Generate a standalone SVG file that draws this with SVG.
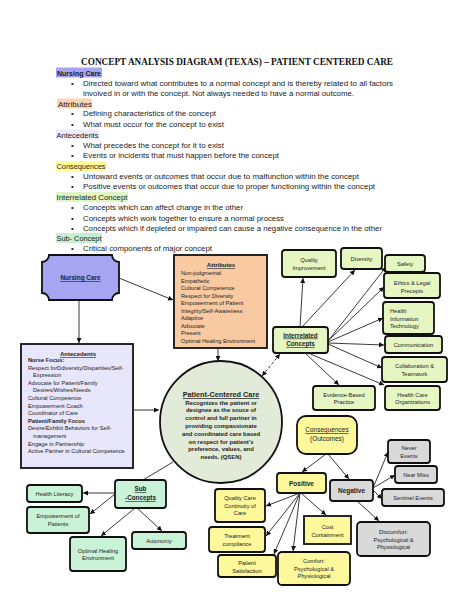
<svg xmlns="http://www.w3.org/2000/svg" width="474" height="613" viewBox="0 0 474 613">
<defs>
<marker id="ah" viewBox="0 0 10 10" refX="10" refY="5" markerWidth="5" markerHeight="5" orient="auto-start-reverse" markerUnits="userSpaceOnUse"><path d="M0,0 L10,5 L0,10 z" fill="#111"/></marker>
</defs>
<style>
.tt{font-family:"Liberation Serif","Times New Roman",serif;font-weight:bold;font-size:10px;fill:#111}
.s{font-family:"Liberation Sans",Arial,sans-serif;fill:#222}
.top{font-size:8px}
.hd{font-size:8px}
.n{font-size:5.7px;text-anchor:middle}
.l{font-size:5.7px}
.b{font-weight:bold}
.u{text-decoration:underline}
.c{text-anchor:middle}
.bx{stroke:#111;stroke-width:1.8}
.gr{fill:#e6f6c2}
.ye{fill:#fcf89b}
.gy{fill:#d9d9d9}
.mt{fill:#c9f2d7}
.cn line,.cn path{stroke:#222;stroke-width:0.9;fill:none}
.ar{marker-end:url(#ah)}
</style>
<rect width="474" height="613" fill="#fff"/>

<g id="legend">
<text class="tt" x="81" y="65" textLength="312" lengthAdjust="spacingAndGlyphs">CONCEPT ANALYSIS DIAGRAM (TEXAS) – PATIENT CENTERED CARE</text>
<rect x="56" y="67.5" width="46" height="10" fill="#a5a5f2"/>
<text class="s hd b" x="57" y="75.5" textLength="44" lengthAdjust="spacingAndGlyphs">Nursing Care</text>
<text class="s top" x="71" y="86">•</text>
<text class="s top" x="83" y="86" textLength="310" lengthAdjust="spacingAndGlyphs">Directed toward what contributes to a normal concept and is thereby related to all factors</text>
<text class="s top" x="83" y="96" textLength="271" lengthAdjust="spacingAndGlyphs">involved in or with the concept. Not always needed to have a normal outcome.</text>
<rect x="57" y="98.5" width="35" height="10" fill="#fbd5b5"/>
<text class="s hd" x="58" y="106.5" textLength="34" lengthAdjust="spacingAndGlyphs">Attributes</text>
<text class="s top" x="71" y="116">•</text>
<text class="s top" x="83" y="116" textLength="133" lengthAdjust="spacingAndGlyphs">Defining characteristics of the concept</text>
<text class="s top" x="71" y="127">•</text>
<text class="s top" x="83" y="127" textLength="141" lengthAdjust="spacingAndGlyphs">What must occur for the concept to exist</text>
<rect x="56" y="129.5" width="43" height="10" fill="#ecebfb"/>
<text class="s hd" x="56.5" y="137.5" textLength="42" lengthAdjust="spacingAndGlyphs">Antecedents</text>
<text class="s top" x="71" y="148">•</text>
<text class="s top" x="83" y="148" textLength="141" lengthAdjust="spacingAndGlyphs">What precedes the concept for it to exist</text>
<text class="s top" x="71" y="158">•</text>
<text class="s top" x="83" y="158" textLength="196" lengthAdjust="spacingAndGlyphs">Events or incidents that must happen before the concept</text>
<rect x="56" y="161" width="50" height="10" fill="#ffff99"/>
<text class="s hd" x="56.5" y="169" textLength="49" lengthAdjust="spacingAndGlyphs">Consequences</text>
<text class="s top" x="71" y="179">•</text>
<text class="s top" x="83" y="179" textLength="276" lengthAdjust="spacingAndGlyphs">Untoward events or outcomes that occur due to malfunction within the concept</text>
<text class="s top" x="71" y="189">•</text>
<text class="s top" x="83" y="189" textLength="292" lengthAdjust="spacingAndGlyphs">Positive events or outcomes that occur due to proper functioning within the concept</text>
<rect x="56" y="192" width="72" height="10" fill="#e2f5c5"/>
<text class="s hd" x="56.5" y="200" textLength="71" lengthAdjust="spacingAndGlyphs">Interrelated Concept</text>
<text class="s top" x="71" y="210">•</text>
<text class="s top" x="83" y="210" textLength="160" lengthAdjust="spacingAndGlyphs">Concepts which can affect change in the other</text>
<text class="s top" x="71" y="221">•</text>
<text class="s top" x="83" y="221" textLength="201" lengthAdjust="spacingAndGlyphs">Concepts which work together to ensure a normal process</text>
<text class="s top" x="71" y="231">•</text>
<text class="s top" x="83" y="231" textLength="299" lengthAdjust="spacingAndGlyphs">Concepts which if depleted or impaired can cause a negative consequence in the other</text>
<rect x="56" y="233" width="46" height="10" fill="#c6efce"/>
<text class="s hd" x="56.5" y="241" textLength="45" lengthAdjust="spacingAndGlyphs">Sub- Concept</text>
<text class="s top" x="71" y="251">•</text>
<text class="s top" x="83" y="251" textLength="129" lengthAdjust="spacingAndGlyphs">Critical components of major concept</text>
</g>

<g id="connectors" class="cn">
<line class="ar" x1="119" y1="278" x2="173" y2="300"/>
<line class="ar" x1="79" y1="301" x2="79" y2="343"/>
<line class="ar" x1="218" y1="349" x2="218" y2="361"/>
<line class="ar" x1="134" y1="410" x2="159" y2="410"/>
<line x1="173" y1="462" x2="143" y2="480"/>
<path d="M262,376 L280,354" stroke-dasharray="3,2" marker-start="url(#ah)" marker-end="url(#ah)"/>
<line class="ar" x1="300" y1="327" x2="303" y2="278"/>
<line class="ar" x1="302" y1="327" x2="355" y2="270"/>
<line class="ar" x1="328" y1="341" x2="386" y2="267"/>
<line class="ar" x1="328" y1="341" x2="384" y2="287"/>
<line class="ar" x1="328" y1="342" x2="383" y2="318"/>
<line class="ar" x1="328" y1="343" x2="384" y2="345"/>
<line class="ar" x1="328" y1="344" x2="382" y2="368"/>
<line class="ar" x1="305" y1="353" x2="339" y2="385"/>
<line class="ar" x1="308" y1="353" x2="384" y2="385"/>
<line class="ar" x1="326" y1="454" x2="302" y2="472"/>
<line class="ar" x1="328" y1="454" x2="349" y2="479"/>
<line class="ar" x1="300" y1="493" x2="266" y2="506"/>
<line class="ar" x1="300" y1="493" x2="266" y2="536"/>
<line class="ar" x1="300" y1="493" x2="274" y2="554"/>
<line class="ar" x1="300" y1="493" x2="293" y2="551"/>
<line class="ar" x1="301" y1="493" x2="326" y2="515"/>
<line class="ar" x1="373" y1="488" x2="388" y2="452"/>
<line class="ar" x1="373" y1="488" x2="395" y2="475"/>
<line class="ar" x1="373" y1="490" x2="382" y2="499"/>
<line class="ar" x1="357" y1="501" x2="379" y2="521"/>
<line class="ar" x1="115" y1="493" x2="83" y2="493"/>
<line class="ar" x1="115" y1="494" x2="90" y2="514"/>
<line class="ar" x1="135" y1="508" x2="101" y2="536"/>
<line class="ar" x1="137" y1="508" x2="162" y2="531"/>
</g>

<g id="nursing-care">
<path class="bx" fill="#a5a5f2" d="M49,255 H112 A7,7 0 0 0 119,262 V293 A7,7 0 0 0 112,300 H49 A7,7 0 0 0 42,293 V262 A7,7 0 0 0 49,255 Z"/>
<text class="s b u c" x="80.5" y="280" font-size="6.4">Nursing Care</text>
</g>

<g id="attributes">
<rect class="bx" x="174" y="255" width="93" height="93" fill="#f9c9a1"/>
<text class="s b u c" x="221" y="267" font-size="6">Attributes</text>
<text class="s l" x="181" y="275">Non-judgmental</text>
<text class="s l" x="181" y="282.5">Empathetic</text>
<text class="s l" x="181" y="290">Cultural Competence</text>
<text class="s l" x="181" y="297.5">Respect for Diversity</text>
<text class="s l" x="181" y="305">Empowerment of Patient</text>
<text class="s l" x="181" y="312.5">Integrity/Self-Awareness</text>
<text class="s l" x="181" y="320">Adaptive</text>
<text class="s l" x="181" y="327.5">Advocate</text>
<text class="s l" x="181" y="335">Present</text>
<text class="s l" x="181" y="342.5">Optimal Healing Environment</text>
</g>

<g id="antecedents">
<rect class="bx" x="21" y="344" width="112" height="124" fill="#e8e6fb"/>
<text class="s b u c" x="78" y="356" font-size="6">Antecedents</text>
<text class="s l b" x="28" y="362">Nurse Focus:</text>
<text class="s l" x="28" y="369.6">Respect forDdiversity/Disparities/Self-</text>
<text class="s l" x="33" y="377.2">Expression</text>
<text class="s l" x="28" y="384.8">Advocate for Patient/Family</text>
<text class="s l" x="33" y="392.4">Desires/Wishes/Needs</text>
<text class="s l" x="28" y="400">Cultural Competence</text>
<text class="s l" x="28" y="407.6">Empowerment Coach</text>
<text class="s l" x="28" y="415.2">Coordinator of Care</text>
<text class="s l b" x="28" y="422.8">Patient/Family Focus</text>
<text class="s l" x="28" y="430.4">Desire/Exhibit Behaviors for Self-</text>
<text class="s l" x="33" y="438">management</text>
<text class="s l" x="28" y="445.6">Engage in Partnership</text>
<text class="s l" x="28" y="453.2">Active Partner in Cultural Competence</text>
</g>

<g id="patient-centered-care">
<circle class="bx" cx="221" cy="422" r="61" fill="#e2ead8"/>
<text class="s b u c" x="221" y="397" font-size="7.3">Patient-Centered Care</text>
<g class="s b c" font-size="5.9">
<text x="221" y="404.5">Recognizes the patient or</text>
<text x="221" y="412.3">designee as the souce of</text>
<text x="221" y="420.1">control and full partner in</text>
<text x="221" y="427.9">providing compassionate</text>
<text x="221" y="435.7">and coordinated care based</text>
<text x="221" y="443.5">on respect for patient’s</text>
<text x="221" y="451.3">preference, values, and</text>
<text x="221" y="459.1">needs. (QSEN)</text>
</g>
</g>

<g id="interrelated-concepts">
<rect class="bx gr" x="273" y="327" width="55" height="26" rx="3"/>
<text class="s b u c" x="300.5" y="337.5" font-size="6.3">Interrelated</text>
<text class="s b u c" x="300.5" y="346" font-size="6.3">Concepts</text>
</g>
<g id="quality-improvement">
<rect class="bx gr" x="282" y="250" width="54" height="27" rx="3"/>
<text class="s n" x="309" y="262">Quality</text>
<text class="s n" x="309" y="270">Improvement</text>
</g>
<g id="diversity">
<rect class="bx gr" x="341" y="248" width="41" height="21" rx="3"/>
<text class="s n" x="361.5" y="261">Diversity</text>
</g>
<g id="safety">
<rect class="bx gr" x="385" y="255" width="40" height="17" rx="3"/>
<text class="s n" x="405" y="266">Safety</text>
</g>
<g id="ethics">
<rect class="bx gr" x="384" y="273" width="56" height="25" rx="3"/>
<text class="s n" x="412" y="285">Ethics &amp; Legal</text>
<text class="s n" x="412" y="292.5">Precepts</text>
</g>
<g id="health-information-technology">
<rect class="bx gr" x="383" y="302" width="51" height="32" rx="3"/>
<text class="s l" x="390" y="313">Health</text>
<text class="s l" x="390" y="320.5">Information</text>
<text class="s l" x="390" y="328">Technology</text>
</g>
<g id="communication">
<rect class="bx gr" x="385" y="336" width="57" height="17" rx="3"/>
<text class="s n" x="413.5" y="346.5">Communication</text>
</g>
<g id="collaboration">
<rect class="bx gr" x="382" y="357" width="65" height="25" rx="3"/>
<text class="s n" x="414.5" y="368">Collaboration &amp;</text>
<text class="s n" x="414.5" y="375.5">Teamwork</text>
</g>
<g id="health-care-organizations">
<rect class="bx gr" x="385" y="386" width="55" height="24" rx="3"/>
<text class="s n" x="412.5" y="396.5">Health Care</text>
<text class="s n" x="412.5" y="404">Organizations</text>
</g>
<g id="evidence-based-practice">
<rect class="bx gr" x="313" y="386" width="62" height="24" rx="3"/>
<text class="s n" x="344" y="396.5">Evidence-Based</text>
<text class="s n" x="344" y="404">Practice</text>
</g>

<g id="consequences">
<rect class="bx ye" x="297" y="416" width="60" height="38" rx="9"/>
<text class="s u c" x="327" y="432" font-size="6.5">Consequences</text>
<text class="s c" x="327" y="441" font-size="6.5">(Outcomes)</text>
</g>
<g id="positive">
<rect class="bx ye" x="277" y="473" width="49" height="20" rx="3"/>
<text class="s b c" x="301.5" y="485.5" font-size="6.5">Positive</text>
</g>
<g id="negative">
<rect class="bx gy" x="330" y="480" width="43" height="21" rx="3"/>
<text class="s b c" x="351.5" y="493" font-size="6.5">Negative</text>
</g>
<g id="never-events">
<rect class="bx gy" x="388" y="440" width="42" height="23" rx="3"/>
<text class="s n" x="409" y="450">Never</text>
<text class="s n" x="409" y="458">Events</text>
</g>
<g id="near-miss">
<rect class="bx gy" x="395" y="466" width="42" height="17" rx="3"/>
<text class="s n" x="416" y="477">Near Miss</text>
</g>
<g id="sentinel-events">
<rect class="bx gy" x="382" y="489" width="62" height="17" rx="3"/>
<text class="s n" x="413" y="500">Sentinel Events</text>
</g>
<g id="discomfort">
<rect class="bx gy" x="357" y="522" width="73" height="34" rx="4"/>
<text class="s n" x="393.5" y="534">Discomfort:</text>
<text class="s n" x="393.5" y="541.5">Psychological &amp;</text>
<text class="s n" x="393.5" y="549">Physiological</text>
</g>
<g id="quality-care">
<rect class="bx ye" x="215" y="489" width="50" height="33" rx="3"/>
<text class="s n" x="240" y="500">Quality Care</text>
<text class="s n" x="240" y="507.5">Continuity of</text>
<text class="s n" x="240" y="515">Care</text>
</g>
<g id="treatment-compliance">
<rect class="bx ye" x="209" y="527" width="56" height="25" rx="3"/>
<text class="s n" x="237" y="538">Treatment</text>
<text class="s n" x="237" y="545.5">compliance</text>
</g>
<g id="patient-satisfaction">
<rect class="bx ye" x="218" y="555" width="58" height="22" rx="3"/>
<text class="s n" x="247" y="565">Patient</text>
<text class="s n" x="247" y="572.5">Satisfaction</text>
</g>
<g id="comfort">
<rect class="bx ye" x="278" y="552" width="72" height="33" rx="4"/>
<text class="s n" x="314" y="563">Comfort:</text>
<text class="s n" x="314" y="570.5">Psychological &amp;</text>
<text class="s n" x="314" y="578">Physiological</text>
</g>
<g id="cost-containment">
<rect class="bx ye" x="304" y="516" width="47" height="28"/>
<text class="s n" x="327.5" y="529">Cost</text>
<text class="s n" x="327.5" y="536.5">Containment</text>
</g>

<g id="sub-concepts">
<rect class="bx mt" x="115" y="480" width="51" height="28" rx="3"/>
<text class="s b u c" x="140.5" y="491" font-size="6.3">Sub</text>
<text class="s b u c" x="140.5" y="500" font-size="6.3">-Concepts</text>
</g>
<g id="health-literacy">
<rect class="bx mt" x="27" y="485" width="55" height="17" rx="3"/>
<text class="s n" x="54.5" y="495.5">Health Literacy</text>
</g>
<g id="empowerment-of-patients">
<rect class="bx mt" x="27" y="507" width="62" height="26" rx="3"/>
<text class="s n" x="58" y="518">Empowerment of</text>
<text class="s n" x="58" y="525.5">Patients</text>
</g>
<g id="optimal-healing-environment">
<rect class="bx mt" x="70" y="537" width="56" height="34" rx="3"/>
<text class="s n" x="98" y="552.5">Optimal Healing</text>
<text class="s n" x="98" y="560">Environment</text>
</g>
<g id="autonomy">
<rect class="bx mt" x="132" y="532" width="54" height="17" rx="3"/>
<text class="s n" x="159" y="542.5">Autonomy</text>
</g>
</svg>
